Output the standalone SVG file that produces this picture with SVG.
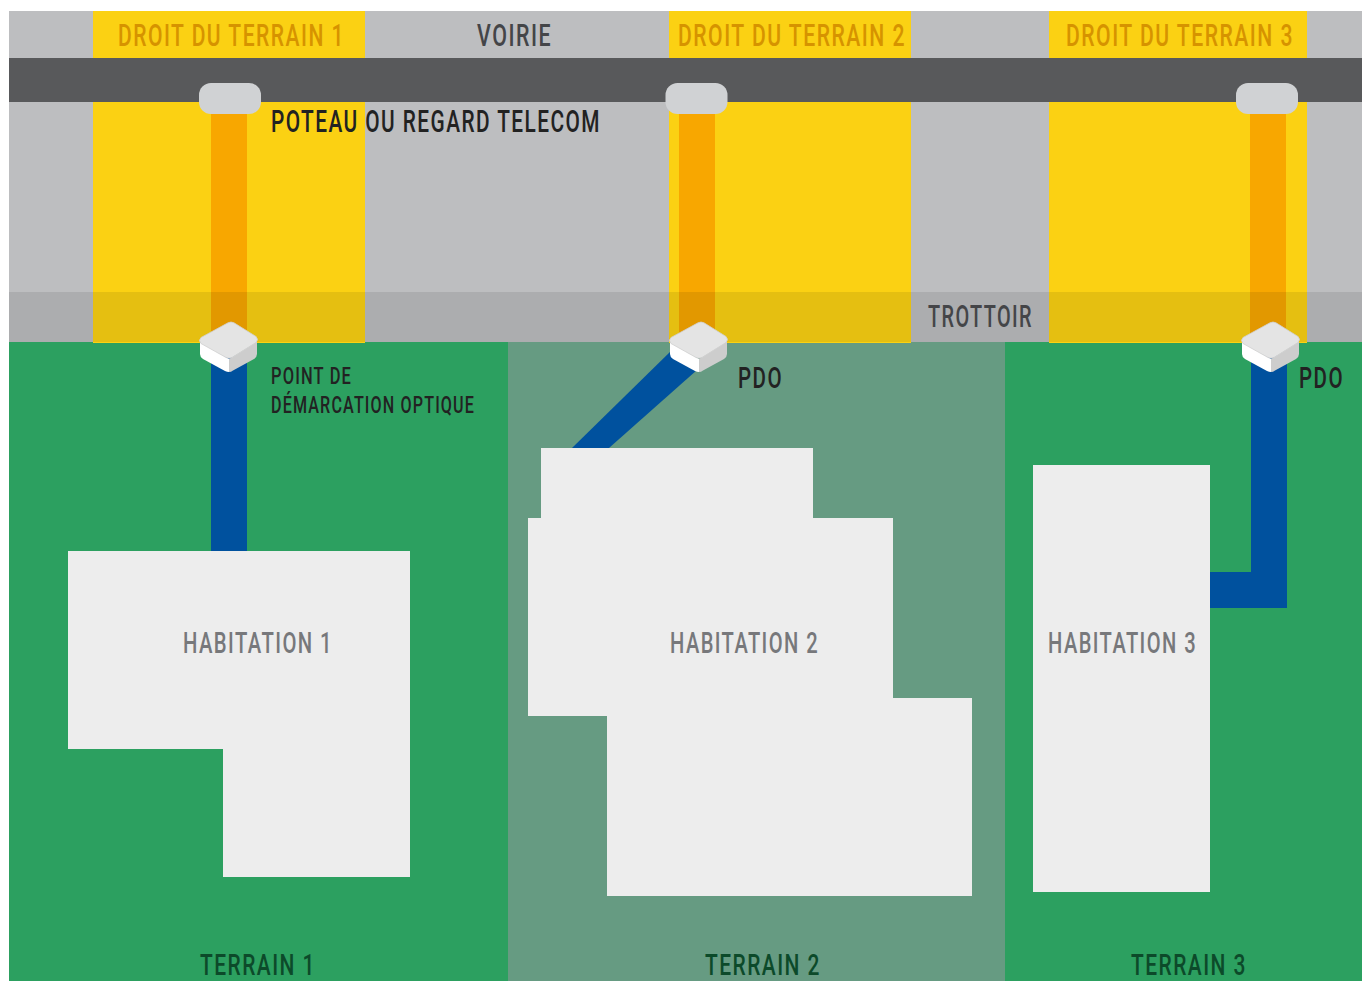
<svg xmlns="http://www.w3.org/2000/svg" width="1362" height="981" viewBox="0 0 1362 981">
<defs>
<style>
text{font-family:Roboto,"Liberation Sans",sans-serif;font-weight:500;letter-spacing:0.07em}
.y{fill:#fbd113}.o{fill:#f8a700}.b{fill:#00519e}.h{fill:#ededed}
.t30{font-size:31px}.t{font-size:29px}.s{font-size:24px}
.dy{fill:#d69300}.dk{fill:#222222}.gr{fill:#444548}.hb{fill:#77787b}.tg{fill:#0c4a2a}
.pole{fill:#d0d2d4}
</style>
<g id="pdo">
<path d="M-29 19V32Q-29 35-26 37L-4 49Q-2 50 0 50V37Z" fill="#fff"/>
<path d="M0 37V50Q2 50 4 48.500L25 37Q28 35 28 32V19Z" fill="#cdcdcd"/>
<path d="M-1 0.800Q2-0.800 5 0.800L27 14.500Q30 17.500 27 20.500L3 35.500Q0 37-3 35.500L-28 21.500Q-31 18.500-28 15.500Z" fill="#e4e4e4" stroke="#cfcfcf" stroke-width="0.800"/>
</g>
</defs>
<rect width="1362" height="981" fill="#fff"/>
<g id="ground">
<rect x="9" y="11" width="1353" height="331" fill="#bdbec0"/>
<rect x="93" y="11" width="272" height="332" class="y"/>
<rect x="669" y="11" width="242" height="332" class="y"/>
<rect x="1049" y="11" width="258" height="332" class="y"/>
<rect x="9" y="342" width="499" height="639" fill="#2ca060"/>
<rect x="508" y="342" width="497" height="639" fill="#669b82"/>
<rect x="1005" y="342" width="357" height="639" fill="#2ca060"/>
<rect x="9" y="58" width="1353" height="44" fill="#58595b"/>
</g>
<g id="connectors">
<rect x="211" y="110" width="36" height="232" class="o"/>
<rect x="679" y="110" width="36" height="232" class="o"/>
<rect x="1250" y="110" width="36" height="232" class="o"/>
<rect x="9" y="292" width="1353" height="50" fill="#000" fill-opacity="0.085"/>
<rect x="93" y="342" width="272" height="1" class="y"/>
<rect x="669" y="342" width="242" height="1" class="y"/>
<rect x="1049" y="342" width="258" height="1" class="y"/>
<rect x="211" y="355" width="36" height="196" class="b"/>
<path d="M572 448L672 350L697 370L609 448Z" class="b"/>
<path d="M1251 355H1287V608H1210V572H1251Z" class="b"/>
</g>
<g id="pole-1"><rect x="199" y="83" width="62" height="31" rx="12" class="pole"/></g>
<g id="pole-2"><rect x="665.500" y="83" width="62" height="31" rx="12" class="pole"/></g>
<g id="pole-3"><rect x="1236" y="83" width="62" height="31" rx="12" class="pole"/></g>
<g id="pdo-1"><use href="#pdo" x="229" y="322"/></g>
<g id="pdo-2"><use href="#pdo" x="699" y="322"/></g>
<g id="pdo-3"><use href="#pdo" x="1271" y="322"/></g>
<g id="habitation-1"><path d="M68 551H410V877H223V749H68Z" class="h"/>
<text x="183" y="653" class="t hb" textLength="150" lengthAdjust="spacingAndGlyphs">HABITATION 1</text></g>
<g id="habitation-2"><path d="M541 448H813V518H893V698H972V896H607V716H528V518H541Z" class="h"/>
<text x="670" y="653" class="t hb" textLength="149" lengthAdjust="spacingAndGlyphs">HABITATION 2</text></g>
<g id="habitation-3"><rect x="1033" y="465" width="177" height="427" class="h"/>
<text x="1048" y="653" class="t hb" textLength="149" lengthAdjust="spacingAndGlyphs">HABITATION 3</text></g>
<g id="labels">
<text x="118" y="46" class="t30 dy" textLength="227" lengthAdjust="spacingAndGlyphs">DROIT DU TERRAIN 1</text>
<text x="678" y="46" class="t30 dy" textLength="228" lengthAdjust="spacingAndGlyphs">DROIT DU TERRAIN 2</text>
<text x="1066" y="46" class="t30 dy" textLength="228" lengthAdjust="spacingAndGlyphs">DROIT DU TERRAIN 3</text>
<text x="477" y="46" class="t30 gr" textLength="75" lengthAdjust="spacingAndGlyphs">VOIRIE</text>
<text x="271" y="132" class="t30 dk" textLength="330" lengthAdjust="spacingAndGlyphs">POTEAU OU REGARD TELECOM</text>
<text x="928" y="327" class="t30 gr" textLength="105" lengthAdjust="spacingAndGlyphs">TROTTOIR</text>
<text x="271" y="384" class="s dk" textLength="81" lengthAdjust="spacingAndGlyphs">POINT DE</text>
<text x="271" y="413" class="s dk" textLength="204" lengthAdjust="spacingAndGlyphs">DÉMARCATION OPTIQUE</text>
<text x="738" y="388" class="t dk" textLength="45" lengthAdjust="spacingAndGlyphs">PDO</text>
<text x="1299" y="388" class="t dk" textLength="45" lengthAdjust="spacingAndGlyphs">PDO</text>
<text x="200" y="975" class="t tg" textLength="116" lengthAdjust="spacingAndGlyphs">TERRAIN 1</text>
<text x="705" y="975" class="t tg" textLength="116" lengthAdjust="spacingAndGlyphs">TERRAIN 2</text>
<text x="1131" y="975" class="t tg" textLength="116" lengthAdjust="spacingAndGlyphs">TERRAIN 3</text>
</g>
</svg>
